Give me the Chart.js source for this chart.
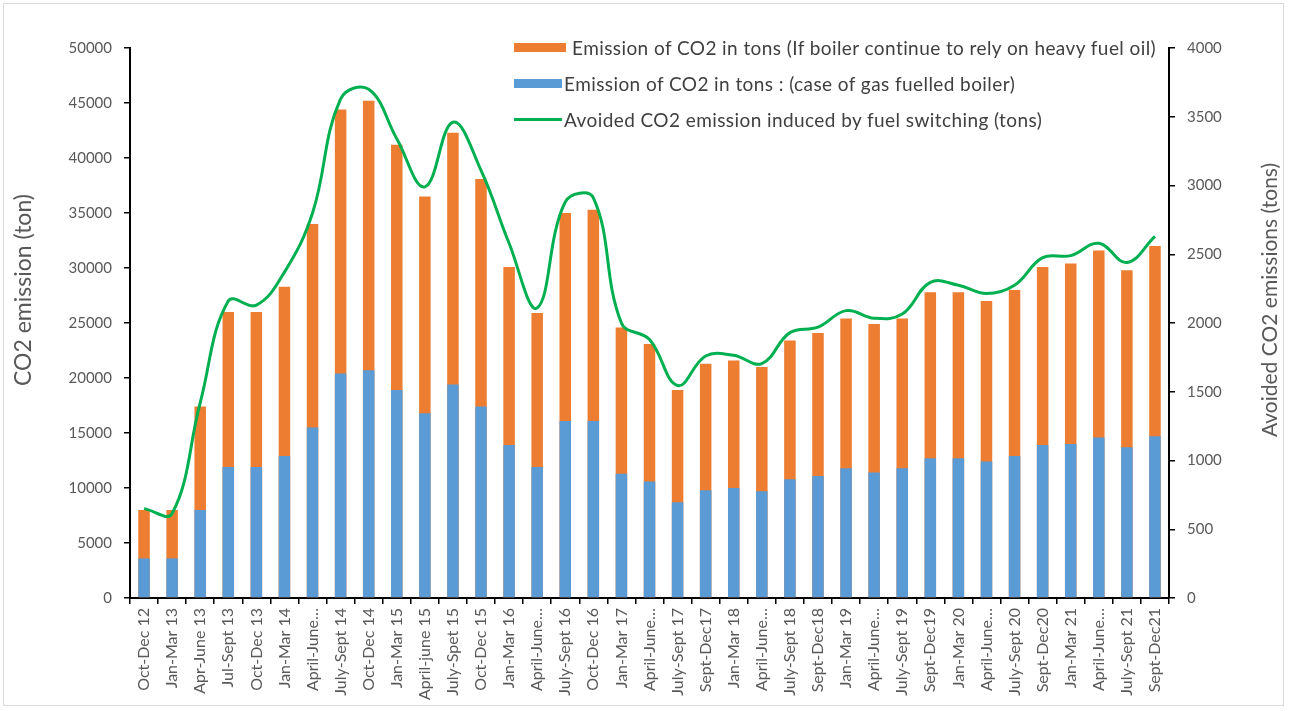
<!DOCTYPE html>
<html>
<head>
<meta charset="utf-8">
<script src="https://cdn.jsdelivr.net/npm/chart.js@4.4.1/dist/chart.umd.min.js"></script>
<style>
  html, body { margin: 0; padding: 0; background: #fff; }
  #wrap { position: relative; width: 1289px; height: 711px; overflow: hidden; }
  #frame { position: absolute; left: 3px; top: 3px; width: 1281px; height: 703px; border: 1px solid #d9d9d9; box-sizing: border-box; pointer-events: none; }
  canvas { position: absolute; left: 0; top: 0; }
  .ytitle { position: absolute; font-family: Lato, "Open Sans", sans-serif; color: #595959; white-space: nowrap; transform: translate(-50%, -50%) rotate(-90deg); }
  #legend { position: absolute; left: 514px; top: 34px; font-family: Lato, "Open Sans", sans-serif; font-size: 19px; letter-spacing: 0.42px; color: #404040; }
  .li { position: absolute; white-space: nowrap; display: flex; align-items: center; height: 26px; }
  .sw { display: inline-block; }
</style>
</head>
<body>
<div id="wrap">
  <canvas id="c" width="1289" height="711"></canvas>
  <div id="frame"></div>
  <div class="ytitle" style="left:22px; top:290px; font-size:23px;">CO2 emission (ton)</div>
  <div class="ytitle" style="left:1268px; top:300px; font-size:21px;">Avoided CO2 emissions (tons)</div>
  <div id="legend">
    <div class="li" style="left:0; top:0;"><span class="sw" style="width:52px;height:9px;background:#ED7D31;margin-right:6px;"></span><span>Emission of CO2 in tons (If boiler continue to rely on heavy fuel oil)</span></div>
    <div class="li" style="left:0; top:36px;"><span class="sw" style="width:48px;height:9px;background:#5B9BD5;margin-right:2px;"></span><span>Emission of CO2 in tons : (case of gas fuelled boiler)</span></div>
    <div class="li" style="left:0; top:72px;"><span class="sw" style="width:48px;height:3px;background:#00B050;margin-right:2px;"></span><span>Avoided CO2 emission induced by fuel switching (tons)</span></div>
  </div>
</div>
<script>
const categories = [
  "Oct-Dec 12","Jan-Mar 13","Apr-June 13","Jul-Sept 13","Oct-Dec 13","Jan-Mar 14","April-June…",
  "July-Sept 14","Oct-Dec 14","Jan-Mar 15","April-june 15","July-Spet 15","Oct-Dec 15","Jan-Mar 16",
  "April-June…","July-Sept 16","Oct-Dec 16","Jan-Mar 17","April-June…","July-Sept 17","Sept-Dec17",
  "Jan-Mar 18","April-June…","July-Sept 18","Sept-Dec18","Jan-Mar 19","April-June…","July-Sept 19",
  "Sept-Dec19","Jan-Mar 20","April-June…","July-Sept 20","Sept-Dec20","Jan-Mar 21","April-June…",
  "July-Sept 21","Sept-Dec21"
];
const heavyFuelOil = [
  8000, 8000, 17400, 26000, 26000, 28300, 34000,
  44400, 45200, 41200, 36500, 42300, 38100, 30100,
  25900, 35000, 35300, 24600, 23100, 18900, 21300,
  21600, 21000, 23400, 24100, 25400, 24900, 25400,
  27800, 27800, 27000, 28000, 30100, 30400, 31600,
  29800, 32000
];
const gasBoiler = [
  3600, 3600, 8000, 11900, 11900, 12900, 15500,
  20400, 20700, 18900, 16800, 19400, 17400, 13900,
  11900, 16100, 16100, 11300, 10600, 8700, 9800,
  10000, 9700, 10800, 11100, 11800, 11400, 11800,
  12700, 12700, 12400, 12900, 13900, 14000, 14600,
  13700, 14700
];
const avoided = [
  650, 615, 1420, 2160, 2130, 2370, 2800,
  3630, 3700, 3340, 2990, 3460, 3110, 2580,
  2110, 2880, 2910, 2000, 1880, 1545, 1760,
  1765, 1705, 1930, 1970, 2090, 2035, 2065,
  2295, 2275, 2215, 2275, 2475, 2490, 2580,
  2440, 2630
];

const fontFamily = "Lato, 'Open Sans', sans-serif";
const tickColor = '#595959';
const plain = v => String(v);

new Chart(document.getElementById('c'), {
  data: {
    labels: categories,
    datasets: [
      { type: 'bar', label: 'Emission of CO2 in tons (If boiler continue to rely on heavy fuel oil)',
        data: heavyFuelOil, backgroundColor: '#ED7D31', yAxisID: 'y', grouped: false, order: 2,
        categoryPercentage: 1, barPercentage: 0.41 },
      { type: 'bar', label: 'Emission of CO2 in tons : (case of gas fuelled boiler)',
        data: gasBoiler, backgroundColor: '#5B9BD5', yAxisID: 'y', grouped: false, order: 1,
        categoryPercentage: 1, barPercentage: 0.41 },
      { type: 'line', label: 'Avoided CO2 emission induced by fuel switching (tons)',
        data: avoided, borderColor: '#00B050', borderWidth: 3, pointRadius: 0, tension: 0.4,
        yAxisID: 'y1', order: 0, fill: false }
    ]
  },
  options: {
    responsive: false,
    animation: false,
    devicePixelRatio: 1,
    layout: { padding: { left: 0, right: 0, top: 48, bottom: 0 } },
    plugins: { legend: { display: false }, tooltip: { enabled: false } },
    scales: {
      x: {
        type: 'category',
        offset: true,
        stacked: false,
        grid: { display: true, offset: true, drawOnChartArea: false, drawTicks: true, tickLength: 6, color: '#000', lineWidth: 1.5 },
        border: { display: true, color: '#000', width: 2 },
        ticks: { autoSkip: false, minRotation: 90, maxRotation: 90, padding: 4, color: tickColor,
                 font: { family: fontFamily, size: 16 } },
        afterFit: s => { s.height = 113; }
      },
      y: {
        position: 'left',
        min: 0, max: 50000,
        ticks: { stepSize: 5000, color: tickColor, font: { family: fontFamily, size: 15 }, padding: 12, callback: plain },
        grid: { drawOnChartArea: false, drawTicks: true, tickLength: 6, color: '#000', lineWidth: 1.5 },
        border: { display: true, color: '#000', width: 2 },
        afterFit: s => { s.width = 130; }
      },
      y1: {
        position: 'right',
        min: 0, max: 4000,
        ticks: { stepSize: 500, color: tickColor, font: { family: fontFamily, size: 15 }, padding: 12, callback: plain },
        grid: { drawOnChartArea: false, drawTicks: true, tickLength: 6, color: '#000', lineWidth: 1.5 },
        border: { display: true, color: '#000', width: 2 },
        afterFit: s => { s.width = 120; }
      }
    }
  }
});
</script>
</body>
</html>
